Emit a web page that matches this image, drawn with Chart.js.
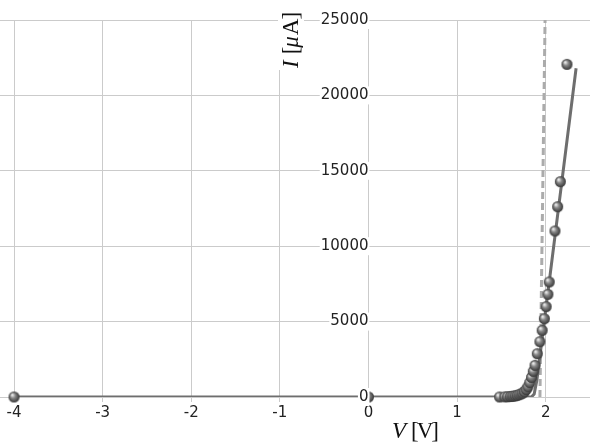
<!DOCTYPE html>
<html>
<head>
<meta charset="utf-8">
<title>Diode I-V</title>
<script src="https://cdn.jsdelivr.net/npm/chart.js@4.4.1/dist/chart.umd.min.js"></script>
<style>
  html, body { margin: 0; padding: 0; background: #fff; }
  canvas { display: block; }
</style>
</head>
<body>
<canvas id="chart" width="590" height="444"></canvas>
<script>
// measured points: voltage [V], current [uA]
const voltage = [-4, 0, 1.48, 1.54, 1.57, 1.60, 1.62, 1.64, 1.66, 1.68, 1.70, 1.72, 1.74, 1.76, 1.78,
  1.80, 1.82, 1.84, 1.86, 1.88, 1.905, 1.935, 1.96, 1.985, 2.005, 2.025, 2.04, 2.105, 2.135, 2.165, 2.24];
const current = [0, 0, 0, 10, 20, 30, 45, 60, 80, 110, 150, 200, 260, 350, 500,
  680, 950, 1300, 1700, 2100, 2870, 3670, 4420, 5190, 5990, 6810, 7630, 11010, 12620, 14280, 22060];

// fitted curve
const fitVoltage = [-4, 1.84, 1.87, 1.90, 2.343];
const fitCurrent = [0, 0, 200, 1100, 21800];

// threshold marker
const markVoltage = [1.935, 1.993];
const markCurrent = [0, 25000];

const xTicks = [-4, -3, -2, -1, 0, 1, 2];
const yTicks = [0, 5000, 10000, 15000, 20000, 25000];

const toPoints = (xs, ys) => xs.map((x, i) => ({ x: x, y: ys[i] }));

// shaded ball used as the point marker
function makeBall(r) {
  const c = document.createElement('canvas');
  c.width = c.height = r * 2 + 2;
  const g = c.getContext('2d');
  const cx = r + 1, cy = r + 1;
  const grad = g.createRadialGradient(cx - r * 0.35, cy - r * 0.4, r * 0.1, cx, cy, r);
  grad.addColorStop(0, '#eeeeee');
  grad.addColorStop(0.4, '#888888');
  grad.addColorStop(1, '#353535');
  g.fillStyle = grad;
  g.beginPath();
  g.arc(cx, cy, r, 0, Math.PI * 2);
  g.fill();
  return c;
}
const ball = makeBall(5.5);

const serif = '"Liberation Serif", "Times New Roman", serif';

// draw a row of [text, font, gap after] pieces starting at (0, 0)
function drawPieces(ctx, pieces) {
  let tx = 0;
  pieces.forEach(p => {
    ctx.font = p[1] + serif;
    ctx.fillText(p[0], tx, 0);
    tx += ctx.measureText(p[0]).width + p[2];
  });
  return tx;
}

// axis titles in math style, drawn on top with a white backing
const axisTitles = {
  id: 'axisTitles',
  afterDraw(chart) {
    const ctx = chart.ctx;
    ctx.save();
    ctx.fillStyle = '#111';
    ctx.textBaseline = 'alphabetic';

    // V [V]
    ctx.save();
    ctx.translate(392, 438);
    drawPieces(ctx, [
      ['V', 'italic 23px ', 5],
      ['[', '23px ', -2],
      ['V', '23px ', -2],
      [']', '23px ', 0]
    ]);
    ctx.restore();

    // I [uA], rotated
    const yParts = [
      ['I', 'italic 23px ', 6],
      ['[', '23px ', -1],
      ['\u03bc', 'italic 23px ', 1],
      ['A', '23px ', -1],
      [']', '23px ', 0]
    ];
    ctx.save();
    ctx.translate(298, 68);
    ctx.rotate(-Math.PI / 2);
    ctx.fillStyle = '#fff';
    ctx.fillRect(-2, -20, 62, 26);
    ctx.fillStyle = '#111';
    drawPieces(ctx, yParts);
    ctx.restore();

    ctx.restore();
  }
};

const gridColor = '#cbcbcb';
const tickFont = { family: '"DejaVu Sans", sans-serif', size: 15 };

new Chart(document.getElementById('chart'), {
  type: 'scatter',
  data: {
    datasets: [
      {
        label: 'measured',
        data: toPoints(voltage, current),
        pointStyle: ball,
        pointRadius: 5.5,
        pointHoverRadius: 5.5,
        clip: false,
        order: 0
      },
      {
        label: 'fit',
        data: toPoints(fitVoltage, fitCurrent),
        showLine: true,
        borderColor: '#6e6e6e',
        borderWidth: 3,
        pointRadius: 0,
        order: 1
      },
      {
        label: 'threshold',
        data: toPoints(markVoltage, markCurrent),
        showLine: true,
        borderColor: '#ababab',
        borderWidth: 3,
        borderDash: [7, 4],
        pointRadius: 0,
        order: 2
      }
    ]
  },
  options: {
    responsive: false,
    animation: false,
    devicePixelRatio: 1,
    layout: { autoPadding: false, padding: { top: 20, bottom: 47, left: 0, right: 0 } },
    plugins: { legend: { display: false }, tooltip: { enabled: false } },
    scales: {
      x: {
        type: 'linear',
        position: { y: 0 },
        min: -4.158,
        max: 2.5,
        afterBuildTicks: s => { s.ticks = xTicks.map(v => ({ value: v })); },
        grid: { color: gridColor, tickColor: gridColor, tickLength: 5 },
        border: { display: false },
        ticks: { color: '#222', font: tickFont, padding: 2, maxRotation: 0, callback: v => String(v) }
      },
      y: {
        type: 'linear',
        position: { x: 0 },
        min: 0,
        max: 25000,
        afterBuildTicks: s => { s.ticks = yTicks.map(v => ({ value: v })); },
        grid: { color: gridColor, tickColor: gridColor, tickLength: 5 },
        border: { display: false },
        ticks: {
          z: 1,
          color: '#222',
          font: tickFont,
          padding: 2,
          showLabelBackdrop: true,
          backdropColor: '#fff',
          backdropPadding: { x: 1, y: 0 },
          callback: v => String(v)
        }
      }
    }
  },
  plugins: [axisTitles]
});
</script>
</body>
</html>
